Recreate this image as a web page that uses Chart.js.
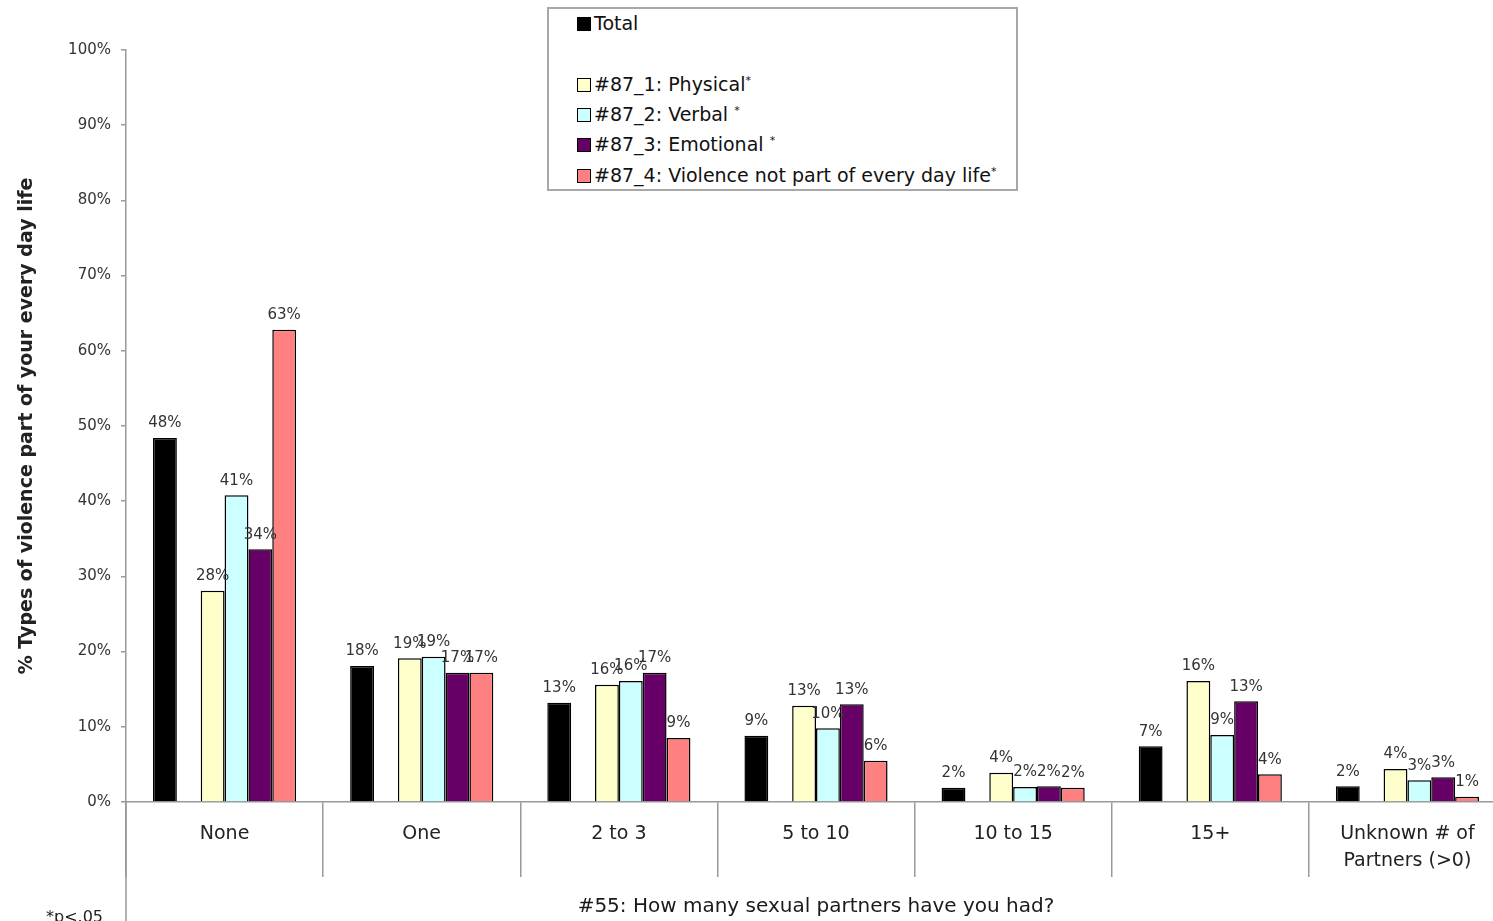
<!DOCTYPE html>
<html>
<head>
<meta charset="utf-8">
<script src="https://cdn.jsdelivr.net/npm/chart.js@4.4.1/dist/chart.umd.min.js"></script>
<style>
  html, body { margin: 0; padding: 0; background: #fff; overflow: hidden; }
  #wrap { position: relative; width: 1493px; height: 921px; overflow: hidden; }
  #grafico { position: absolute; left: 0; top: 0; }
  #legenda {
    position: absolute; left: 547px; top: 7px; width: 467px; height: 180px;
    border: 2px solid #a8a8a8; background: #fff;
    font-family: "DejaVu Sans", sans-serif; font-size: 19px; color: #111;
  }
  .voce { position: absolute; left: 28px; height: 22px; line-height: 22px; white-space: nowrap; }
  .quadrato { display: inline-block; width: 12px; height: 12px; border: 1.5px solid #000; vertical-align: -1px; margin-right: 3px; }
  .voce sup { font-size: 11px; vertical-align: 7px; line-height: 0; }
  #nota { position: absolute; left: 46px; top: 907px; font-family: "DejaVu Sans", sans-serif; font-size: 16px; color: #222; }
</style>
</head>
<body>
<div id="wrap">
  <canvas id="grafico" width="1510" height="921"></canvas>
  <div id="legenda"></div>
  <div id="nota">*p&lt;.05</div>
</div>
<script>
// categorie e serie
const categorie = ['None', 'One', '2 to 3', '5 to 10', '10 to 15', '15+', ['Unknown # of', 'Partners (>0)']];
const nomiSerie = ['Total', '', '#87_1: Physical*', '#87_2: Verbal *', '#87_3: Emotional *', '#87_4: Violence not part of every day life*'];
const coloriSerie = ['#000000', '#ffffff', '#ffffcc', '#ccffff', '#660066', '#ff8080'];

const totale    = [48.4, 18.1, 13.2, 8.8, 1.9, 7.4, 2.1];
const vuota     = [null, null, null, null, null, null, null]; // serie vuota (spazio nel gruppo)
const fisica    = [28.1, 19.1, 15.6, 12.8, 3.9, 16.1, 4.4];
const verbale   = [40.8, 19.3, 16.1, 9.8, 2.0, 8.9, 2.9];
const emotiva   = [33.6, 17.2, 17.2, 13.0, 2.1, 13.4, 3.3];
const nonParte  = [62.8, 17.2, 8.5, 5.5, 1.9, 3.7, 0.7];

const valoriSerie = [totale, vuota, fisica, verbale, emotiva, nonParte];
const tickY = [0, 10, 20, 30, 40, 50, 60, 70, 80, 90, 100];

const FONT = '"DejaVu Sans", sans-serif';

// etichette sopra le barre
const etichette = {
    id: 'etichette',
    afterDatasetsDraw(chart) {
        const ctx = chart.ctx;
        ctx.save();
        ctx.font = '15px ' + FONT;
        ctx.fillStyle = '#333';
        ctx.textAlign = 'center';
        ctx.textBaseline = 'bottom';
        chart.data.datasets.forEach((ds, i) => {
            if (!ds.label) return;
            chart.getDatasetMeta(i).data.forEach((bar, j) => {
                const v = ds.data[j];
                if (v === null) return;
                ctx.fillText(Math.round(v) + '%', bar.x, bar.y - 7);
            });
        });
        ctx.restore();
    }
};

// linea verticale sinistra sotto l'asse
const lineaSinistra = {
    id: 'lineaSinistra',
    afterDraw(chart) {
        const ctx = chart.ctx;
        const a = chart.chartArea;
        ctx.save();
        ctx.strokeStyle = '#999';
        ctx.lineWidth = 1.5;
        ctx.beginPath();
        ctx.moveTo(a.left, a.bottom);
        ctx.lineTo(a.left, chart.height);
        ctx.stroke();
        ctx.restore();
    }
};

const datasets = nomiSerie.map((nome, i) => ({
    label: nome,
    data: valoriSerie[i],
    backgroundColor: coloriSerie[i],
    borderColor: '#000',
    borderWidth: 1.5,
    categoryPercentage: 0.726,
    barPercentage: 1.0
}));

new Chart(document.getElementById('grafico'), {
    type: 'bar',
    data: { labels: categorie, datasets: datasets },
    options: {
        responsive: false,
        animation: false,
        layout: { padding: { left: 0, right: 4, top: 50, bottom: 0 } },
        plugins: { legend: { display: false }, tooltip: { enabled: false } },
        scales: {
            x: {
                grid: { offset: true, drawOnChartArea: false, drawTicks: true, tickLength: 75, color: '#999', lineWidth: 1.5 },
                border: { color: '#999', width: 1.5 },
                ticks: { font: { family: FONT, size: 19, lineHeight: 1.4 }, color: '#222', padding: -56, maxRotation: 0, autoSkip: false },
                title: { display: true, text: '#55: How many sexual partners have you had?', font: { family: FONT, size: 20 }, color: '#1a1a1a', padding: { top: 0, bottom: 2 } },
                afterFit(scale) { scale.height = 119; }
            },
            y: {
                min: 0, max: 100,
                afterBuildTicks(scale) { scale.ticks = tickY.map(v => ({ value: v })); },
                grid: { drawOnChartArea: false, drawTicks: true, tickLength: 5, color: '#999', lineWidth: 1.5 },
                border: { color: '#999', width: 1.5 },
                ticks: { font: { family: FONT, size: 15 }, color: '#333', padding: 10, callback: v => v + '%' },
                title: { display: true, text: '% Types of violence part of your every day life', font: { family: FONT, size: 19, weight: 'bold' }, color: '#222', padding: { top: 16, bottom: 0 } },
                afterFit(scale) { scale.width = 126; }
            }
        }
    },
    plugins: [etichette, lineaSinistra]
});

// legenda html
const legenda = document.getElementById('legenda');
const righe = [12, 42, 73, 103, 133, 164];
nomiSerie.forEach((nome, i) => {
    if (!nome) return;
    const voce = document.createElement('div');
    voce.className = 'voce';
    voce.style.top = (righe[i] - 9) + 'px';
    const q = document.createElement('span');
    q.className = 'quadrato';
    q.style.background = coloriSerie[i];
    voce.appendChild(q);
    const testo = nome.endsWith('*') ? nome.slice(0, -1) : nome;
    voce.appendChild(document.createTextNode(testo));
    if (nome.endsWith('*')) {
        const s = document.createElement('sup');
        s.textContent = '*';
        voce.appendChild(s);
    }
    legenda.appendChild(voce);
});
</script>
</body>
</html>
